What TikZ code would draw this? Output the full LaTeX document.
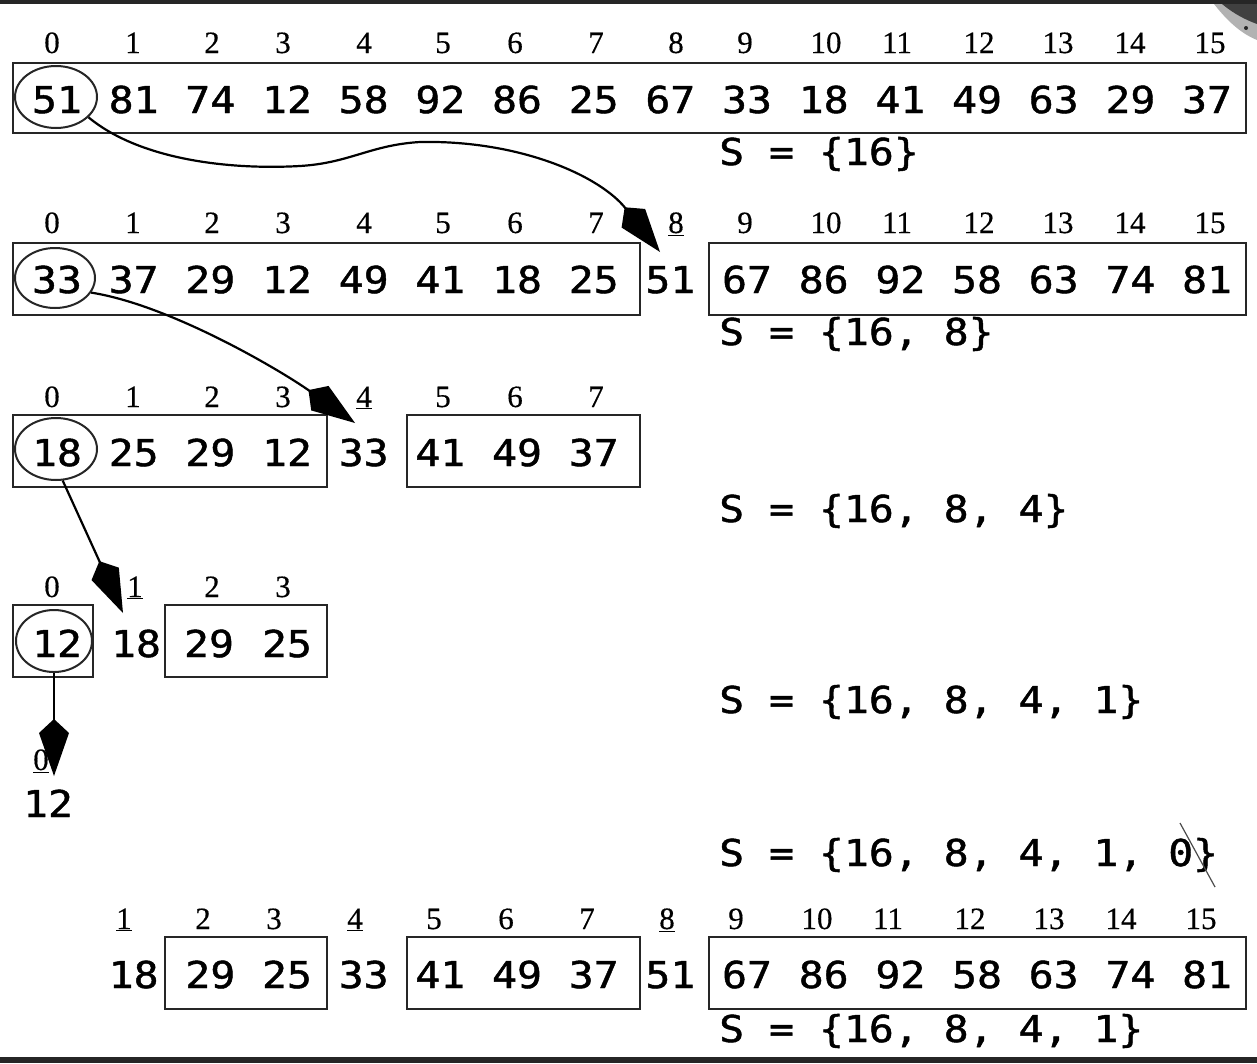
\documentclass[tikz,border=0pt]{standalone}
\usepackage{fontspec}
\newfontfamily\numfont[FakeStretch=1.12,FakeBold=1.2]{DejaVu Sans Mono}
\newfontfamily\idxfont[FakeBold=0.4]{Liberation Serif}
\usetikzlibrary{arrows.meta,shapes.geometric}
\frenchspacing
\begin{document}
\begin{tikzpicture}[x=1pt,y=-1pt,
  num/.style={font=\numfont\fontsize{37}{37}\selectfont, anchor=base, inner sep=0pt},
  idx/.style={font=\idxfont\fontsize{31}{31}\selectfont, anchor=base, inner sep=0pt},
  sset/.style={font=\numfont\fontsize{37}{37}\selectfont, anchor=base west, inner sep=0pt},
  box/.style={draw=black!85, line width=2.6pt, rectangle, inner sep=0pt},
  oval/.style={draw=black!85, line width=2pt, ellipse, inner sep=0pt},
  link/.style={draw=black, line width=2.2pt, -{Kite[length=57pt,width=30pt,inset=14pt]}},
]
\fill[white] (0,0) rectangle (1257,1063);
\useasboundingbox (0,0) rectangle (1257,1063);
\fill[black!85] (0,0) rectangle (1257,4);
\fill[black!85] (0,1057) rectangle (1257,1063);
\fill[black!30] (1214,4) .. controls (1228,22) and (1242,34) .. (1257,40) -- (1257,4) -- cycle;
\fill[black!75] (1222,4) .. controls (1234,14) and (1246,20) .. (1257,24) -- (1257,4) -- cycle;
\fill[black!85] (1246,28) circle (2);

% ---------- Row 1 ----------
\node[box, minimum width=1233pt, minimum height=70pt] (b1) at (629.5,98) {};
\foreach \x [count=\i from 0] in {52,133,212,283,364,443,515,596,676,745,826,897,979,1058,1130,1210}
  \node[idx] (r1i\i) at (\x,53) {\i};
\foreach \v [count=\i from 0] in {51,81,74,12,58,92,86,25,67,33,18,41,49,63,29,37}
  \node[num] (r1n\i) at ({57+76.67*\i},113) {\v};
\node[oval, minimum width=82pt, minimum height=62pt] (e1) at (56,97) {};
\node[sset] (s1) at (719,165) {S = \{16\}};

% ---------- Row 2 ----------
\node[box, minimum width=627pt, minimum height=72pt] (b2a) at (326.5,279) {};
\node[box, minimum width=537pt, minimum height=72pt] (b2b) at (977.5,279) {};
\foreach \x [count=\i from 0] in {52,133,212,283,364,443,515,596,676,745,826,897,979,1058,1130,1210}
  \node[idx] (r2i\i) at (\x,233) {\ifnum\i=8 \underline{\i}\else\i\fi};
\foreach \v [count=\i from 0] in {33,37,29,12,49,41,18,25,51,67,86,92,58,63,74,81}
  \node[num] (r2n\i) at ({57+76.67*\i},293) {\v};
\node[oval, minimum width=80pt, minimum height=60pt] (e2) at (55,278) {};
\node[sset] (s2) at (719,345) {S = \{16, 8\}};

% ---------- Row 3 ----------
\node[box, minimum width=314pt, minimum height=72pt] (b3a) at (170,451) {};
\node[box, minimum width=233pt, minimum height=72pt] (b3b) at (523.5,451) {};
\foreach \x [count=\i from 0] in {52,133,212,283,364,443,515,596}
  \node[idx] (r3i\i) at (\x,407) {\ifnum\i=4 \underline{\i}\else\i\fi};
\foreach \v [count=\i from 0] in {18,25,29,12,33,41,49,37}
  \node[num] (r3n\i) at ({57+76.67*\i},466) {\v};
\node[oval, minimum width=82pt, minimum height=62pt] (e3) at (56,449) {};
\node[sset] (s3) at (719,522) {S = \{16, 8, 4\}};

% ---------- Row 4 ----------
\node[box, minimum width=80pt, minimum height=72pt] (b4a) at (53,641) {};
\node[box, minimum width=162pt, minimum height=72pt] (b4b) at (246,641) {};
\foreach \x [count=\i from 0] in {52,135,212,283}
  \node[idx] (r4i\i) at (\x,597) {\ifnum\i=1 \underline{\i}\else\i\fi};
\foreach \v/\x [count=\i from 0] in {12/57,18/136,29/209,25/287}
  \node[num] (r4n\i) at (\x,657) {\v};
\node[oval, minimum width=76pt, minimum height=62pt] (e4) at (54,641) {};
\node[sset] (s4) at (719,713) {S = \{16, 8, 4, 1\}};

% ---------- Row 5 ----------
\node[idx] (r5i0) at (41,770) {\underline{0}};
\node[num] (r5n0) at (48,817) {12};
\node[sset] (s5) at (719,866) {S = \{16, 8, 4, 1, 0\}};
\draw[black!70, line width=1.2pt] (1180,823) -- (1215,887);

% ---------- Row 7 (result) ----------
\node[box, minimum width=162pt, minimum height=72pt] (b7a) at (246,973) {};
\node[box, minimum width=233pt, minimum height=72pt] (b7b) at (523.5,973) {};
\node[box, minimum width=537pt, minimum height=72pt] (b7c) at (977.5,973) {};
\foreach \x [count=\i from 1] in {133,212,283,364,443,515,596,676,745,826,897,979,1058,1130,1210}
  \node[idx] (r7i\i) at (\x-9,929) {\ifnum\i=1 \underline{\i}\else\ifnum\i=4 \underline{\i}\else\ifnum\i=8 \underline{\i}\else\i\fi\fi\fi};
\foreach \v [count=\i from 1] in {18,29,25,33,41,49,37,51,67,86,92,58,63,74,81}
  \node[num] (r7n\i) at ({57+76.67*\i},988) {\v};
\node[sset] (s6) at (719,1042) {S = \{16, 8, 4, 1\}};

% ---------- Arrows ----------
\coordinate (t1) at (660,252);
\coordinate (t2) at (355,423);
\coordinate (t3) at (123,613);
\coordinate (t4) at (54,776);
\draw[link] (e1.-32) .. controls (140,160) and (230,170) .. (300,166)
  .. controls (350,163) and (370,145) .. (420,142)
  .. controls (520,140) and (600,176) .. (t1);
\draw[link] (e2.-22) .. controls (170,305) and (280,370) .. (t2);
\draw[link] (e3.-78) -- (t3);
\draw[link] (e4.south) -- (t4);
\end{tikzpicture}
\end{document}
